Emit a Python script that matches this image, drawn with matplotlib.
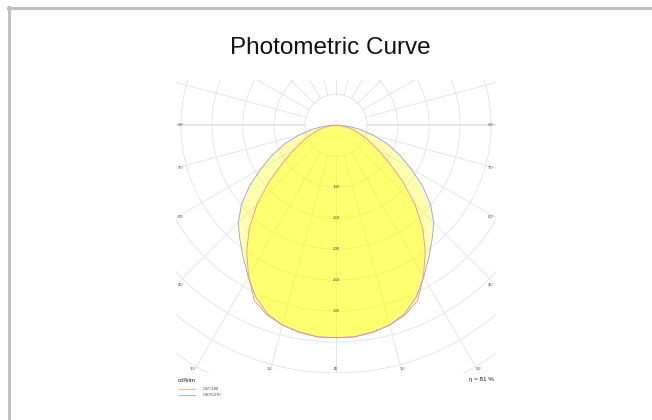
import numpy as np
import matplotlib.pyplot as plt
from matplotlib.lines import Line2D

plt.rcParams['font.family'] = ['Liberation Sans', 'DejaVu Sans']

title = "Photometric Curve"
unit_label = "cd/klm"
efficiency = 81
series_names = ["C0/C180", "C90/C270"]

# intensity (cd/klm) vs gamma angle (deg from nadir), same on both halves
gamma = [0, 5, 10, 15, 20, 25, 30, 35, 40, 45, 50, 55, 60, 65, 70, 75, 80, 85, 90]
c0_c180 = [343, 343, 340, 334, 326, 312, 282, 251, 218, 180, 140, 103, 78, 58, 42, 30, 19, 9, 0]
c90_c270 = [343, 343, 339, 334, 324, 306, 283, 261, 241, 223, 199, 170, 139, 113, 88, 62, 40, 20, 0]

radial_ticks = [100, 150, 200, 250, 300]
angle_ticks = [0, 15, 30, 45, 60, 75, 90]

W, H = 652, 420
fig = plt.figure(figsize=(W / 100, H / 100), dpi=100)

# frame lines (top and left only visible)
fig.add_artist(Line2D([8 / W, 1], [1 - 8 / H, 1 - 8 / H], color='#c0c0c0', lw=2.2))
fig.add_artist(Line2D([9 / W, 9 / W], [0, 1 - 7 / H], color='#c0c0c0', lw=2.2))

fig.text(330 / W, 1 - 48 / H, title, ha='center', va='center', fontsize=17.5, color='#111111')

# polar diagram area
x0, x1, y0, y1 = 176, 496, 80, 373
ax = fig.add_axes([x0 / W, 1 - y1 / H, (x1 - x0) / W, (y1 - y0) / H])
xmax = 258
ax.set_xlim(-xmax, xmax)
ax.set_ylim(-400, 73)
ax.axis('off')

grid_c = '#e6e6e6'
t = np.linspace(0, 2 * np.pi, 400)
for r in range(50, 700, 50):
    ax.plot(r * np.cos(t), r * np.sin(t), color=grid_c, lw=0.7, zorder=1)
for a in range(0, 360, 15):
    rad = np.radians(a)
    lw = 1.4 if a in (90, 270) else 0.7
    ax.plot([50 * np.sin(rad), 700 * np.sin(rad)], [-50 * np.cos(rad), -700 * np.cos(rad)],
            color=grid_c, lw=lw, zorder=1)


def outline(vals):
    g = np.radians(np.array(gamma, dtype=float))
    v = np.array(vals, dtype=float)
    gg = np.concatenate([-g[::-1], g[1:]])
    vv = np.concatenate([v[::-1], v[1:]])
    return vv * np.sin(gg), -vv * np.cos(gg)


xb, yb = outline(c90_c270)
xr, yr = outline(c0_c180)
ax.fill(xb, yb, color='#ffff00', alpha=0.31, lw=0, zorder=2)
ax.fill(xr, yr, color='#ffff00', alpha=0.36, lw=0, zorder=2)
ax.plot(xb, yb, color='#9a9af0', lw=0.6, zorder=3)
ax.plot(xr, yr, color='#f09090', lw=0.6, zorder=3)

for r in radial_ticks:
    ax.text(0, -r, str(r), ha='center', va='center', fontsize=3.2, color='#555555', zorder=4)

for a in angle_ticks:
    rad = np.radians(a)
    xb_hit = 400 * np.tan(rad) if a < 90 else 1e9
    if xb_hit <= xmax - 20:
        for s in (-1, 1):
            ax.text(s * xb_hit, -396, f"{a}°", ha='center', va='bottom', fontsize=3.2, color='#555555', zorder=4)
    else:
        yy = -xmax / np.tan(rad) if a < 90 else 0
        ax.text(-xmax + 3, yy, f"{a}°", ha='left', va='center', fontsize=3.2, color='#555555', zorder=4)
        ax.text(xmax - 3, yy, f"{a}°", ha='right', va='center', fontsize=3.2, color='#555555', zorder=4)

fig.text(178 / W, 1 - 380 / H, unit_label, ha='left', va='center', fontsize=4.5, color='#222222')
fig.text(494 / W, 1 - 380 / H, f"η = {efficiency} %", ha='right', va='center', fontsize=4.5, color='#222222')
for i, (name, c) in enumerate(zip(series_names, ['#ffb0b0', '#b0b0ff'])):
    yy = 1 - (389 + 6 * i) / H
    fig.add_artist(Line2D([179 / W, 195 / W], [yy, yy], color=c, lw=0.8))
    fig.text(203 / W, yy, name, ha='left', va='center', fontsize=3, color='#444444')

fig.savefig('out.png', dpi=100)
